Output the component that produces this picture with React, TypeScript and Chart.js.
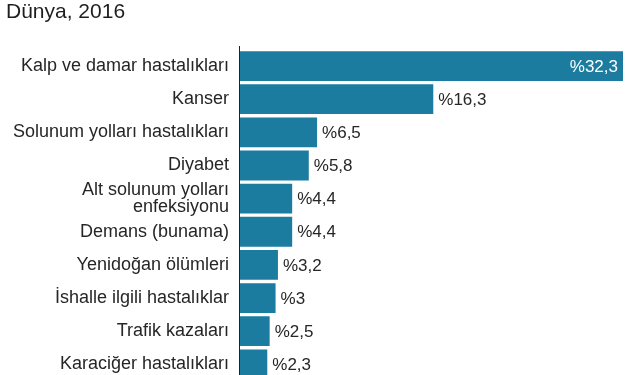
import React, { useEffect, useRef } from "react";
import { Chart, registerables } from "chart.js";

Chart.register(...registerables);

const titleText = "Dünya, 2016";
const categories: (string | string[])[] = [
  "Kalp ve damar hastalıkları",
  "Kanser",
  "Solunum yolları hastalıkları",
  "Diyabet",
  ["Alt solunum yolları", "enfeksiyonu"],
  "Demans (bunama)",
  "Yenidoğan ölümleri",
  "İshalle ilgili hastalıklar",
  "Trafik kazaları",
  "Karaciğer hastalıkları",
];
const values = [32.3, 16.3, 6.5, 5.8, 4.4, 4.4, 3.2, 3, 2.5, 2.3];

const FONT = '"Liberation Sans", Arial, Helvetica, sans-serif';
const BAR = "#1b7ca0";
const TEXT = "#262626";

const fmt = (v: number) => "%" + String(v).replace(".", ",");

const overlay = {
  id: "overlay",
  afterDatasetsDraw(chart: any) {
    const { ctx, chartArea } = chart;
    const meta = chart.getDatasetMeta(0);
    ctx.save();
    ctx.font = `17px ${FONT}`;
    ctx.textBaseline = "middle";
    meta.data.forEach((bar: any, i: number) => {
      const txt = fmt(values[i]);
      const w = ctx.measureText(txt).width;
      if (bar.x + 5 + w > chart.width - 2) {
        ctx.fillStyle = "#ffffff";
        ctx.textAlign = "right";
        ctx.fillText(txt, bar.x - 5, bar.y + 1);
      } else {
        ctx.fillStyle = TEXT;
        ctx.textAlign = "left";
        ctx.fillText(txt, bar.x + 5, bar.y + 1);
      }
    });
    // axis line
    ctx.strokeStyle = "#222";
    ctx.lineWidth = 1;
    ctx.beginPath();
    ctx.moveTo(chartArea.left - 0.5, 46);
    ctx.lineTo(chartArea.left - 0.5, chart.height);
    ctx.stroke();
    // title
    ctx.fillStyle = "#1e1e1e";
    ctx.font = `21px ${FONT}`;
    ctx.textAlign = "left";
    ctx.textBaseline = "alphabetic";
    ctx.fillText(titleText, 6, 17.5);
    ctx.restore();
  },
};

export default function App() {
  const ref = useRef<HTMLCanvasElement | null>(null);
  useEffect(() => {
    document.body.style.margin = "0";
    document.body.style.overflow = "hidden";
    const chart = new Chart(ref.current as HTMLCanvasElement, {
      type: "bar",
      data: {
        labels: categories,
        datasets: [
          {
            data: values,
            backgroundColor: BAR,
            borderWidth: 0,
            barPercentage: 0.9,
            categoryPercentage: 1,
          },
        ],
      },
      options: {
        indexAxis: "y",
        responsive: false,
        animation: false,
        layout: { padding: { top: 49.5, bottom: 17.2, right: 17, left: 0 } },
        plugins: {
          legend: { display: false },
          tooltip: { enabled: false },
          title: { display: false },
        },
        scales: {
          x: {
            display: false,
            min: 0,
            max: 32.3,
          },
          y: {
            grid: { display: false, drawTicks: false },
            border: { display: false },
            afterFit(scale: any) {
              scale.width = 240;
            },
            ticks: {
              color: TEXT,
              padding: 11,
              font: { family: FONT, size: 18, lineHeight: 0.9 },
              autoSkip: false,
            },
          },
        },
      },
      plugins: [overlay],
    });
    return () => chart.destroy();
  }, []);
  return <canvas ref={ref} width={640} height={400} style={{ display: "block" }} />;
}
